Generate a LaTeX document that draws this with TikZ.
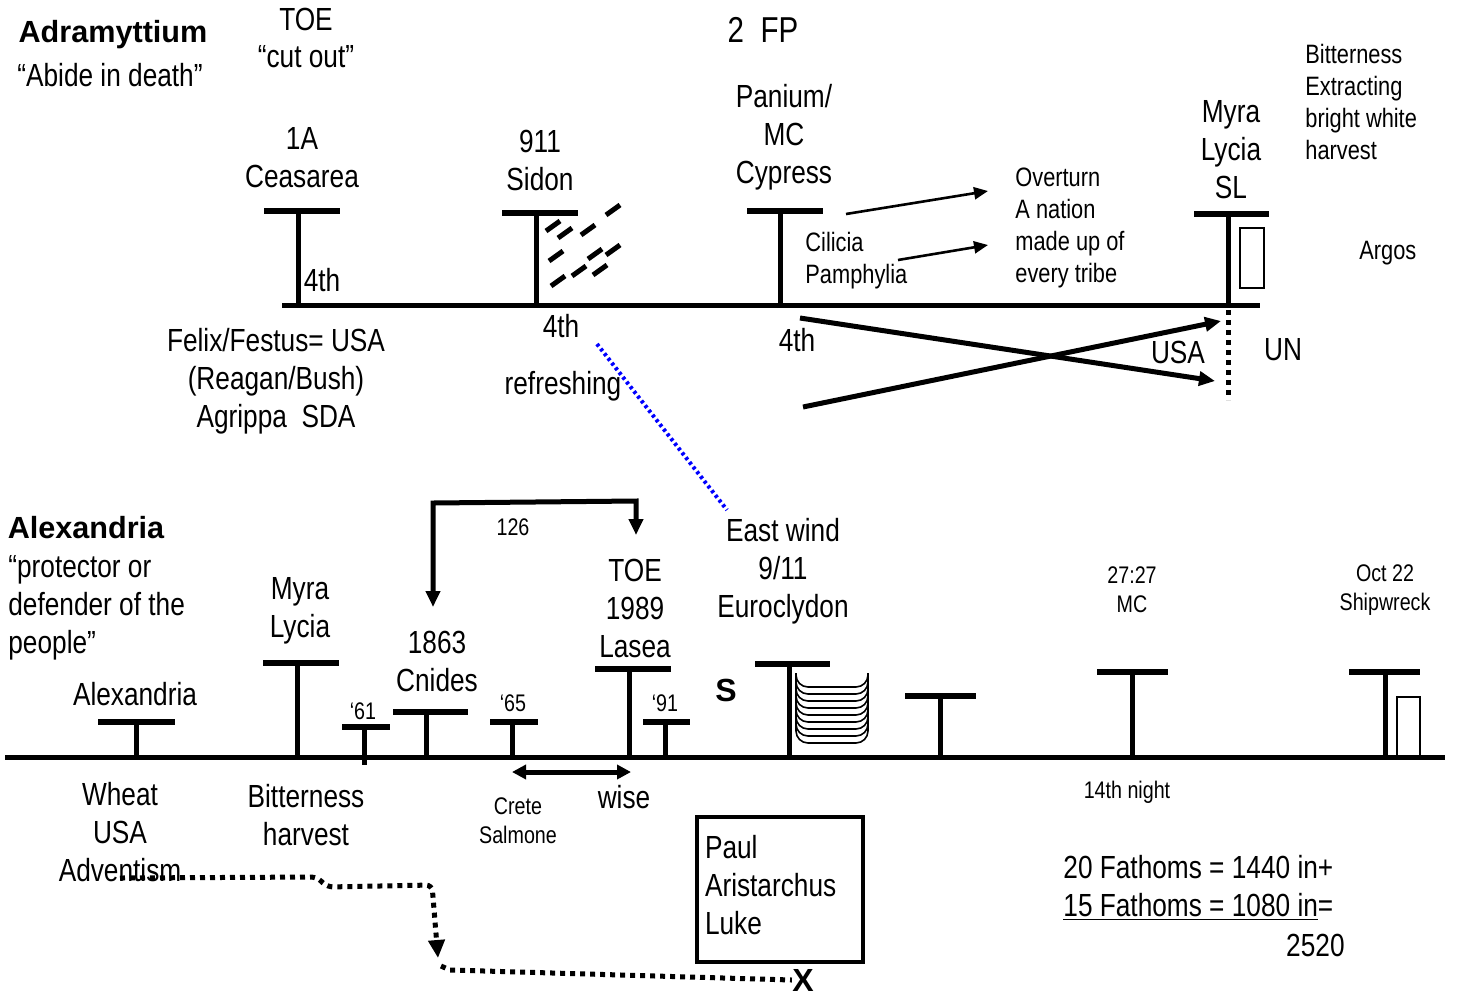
\documentclass[tikz,border=0pt]{standalone}
\usepackage{fontspec}
\setmainfont{Liberation Sans}[FakeStretch=0.82]
\newfontfamily\headfont{Liberation Sans}
\usepackage{tikz}
\usetikzlibrary{arrows.meta}

\begin{document}
\begin{tikzpicture}[x=0.5pt,y=-0.5pt,
			big/.style={
				font=\fontsize{16}{19}\selectfont,
				align=center, inner sep=0pt
			},
			mid/.style={
				font=\fontsize{13.3}{16}\selectfont,
				align=left, inner sep=0pt, anchor=west
			},
			small/.style={
				font=\fontsize{12}{14.5}\selectfont,
				align=center, inner sep=0pt
			},
			head/.style={
				font=\headfont\bfseries\fontsize{15.3}{18}\selectfont,
				inner sep=0pt
			},
			ground/.style={line width=2.5pt},
			post/.style={line width=2.5pt},
			bar/.style={line width=3pt},
			heavy/.style={line width=2.5pt},
			thin/.style={line width=0.8pt},
			trail/.style={line width=2.5pt, dash pattern=on 2.5pt off 2.5pt},
			tip/.style={-{Triangle[length=8pt,width=7pt]}}
			]
			
			\useasboundingbox (0,0) rectangle (1460,996);
			
			% upper voyage
			\node[head] (adram) at (113,35) {Adramyttium};
			\node[big] (abide) at (110,75) {“Abide in death”};
			\node[big,font=\fontsize{16}{18.5}\selectfont] (toetop) at (306,38) {TOE\\“cut out”};
			\node[big,font=\fontsize{18}{21}\selectfont] (fp) at (763,30) {2\ \ FP};
			
			\draw[ground] (282,305) -- (1260,305);
			
			\draw[bar] (264,211) -- (340,211);
			\draw[post] (298,211) -- (298,305);
			\node[big] (caesarea) at (302,158) {1A\\Ceasarea};
			\node[big] (fourtha) at (322,280) {4th};
			
			\draw[bar] (502,213) -- (578,213);
			\draw[post] (536,213) -- (536,305);
			\node[big] (sidon) at (540,160) {911\\Sidon};
			\node[big] (fourthb) at (561,326) {4th};
			\node[big] (refresh) at (563,386) {refreshing};
			\foreach \cx/\cy in {553/226, 565/233, 588/230, 613/210, 556/256,
				595/254, 613/250, 579/271, 558/281, 600/270}
			\draw[heavy] (\cx-7,\cy+5) -- (\cx+7,\cy-5);
			
			\draw[bar] (747,211) -- (823,211);
			\draw[post] (780,211) -- (780,305);
			\node[big] (panium) at (784,137) {Panium/\\MC\\Cypress};
			\node[big] (fourthc) at (797,340) {4th};
			\node[mid] (cilicia) at (805,261) {Cilicia\\Pamphylia};
			\node[mid] (overturn) at (1015,228) {Overturn\\A nation\\made up of\\every tribe};
			
			\draw[bar] (1194,214) -- (1269,214);
			\draw[post] (1228,214) -- (1228,305);
			\draw[thin] (1240,228) rectangle (1264,288);
			\node[big] (myratop) at (1231,150) {Myra\\Lycia\\SL};
			\node[mid] (bittertop) at (1305,102) {Bitterness\\Extracting\\bright white\\harvest};
			\node[mid] (argos) at (1359,253) {Argos};
			\draw[trail] (1228,310) -- (1228,400);
			\node[big] (usatop) at (1178,352) {USA};
			\node[big] (un) at (1283,350) {UN};
			
			\node[big] (felix) at (276,381) {Felix/Festus= USA\\(Reagan/Bush)\\Agrippa\ \ SDA};
			
			\coordinate (pa) at (846,214);
			\coordinate (pb) at (988,191);
			\coordinate (ca) at (898,260);
			\coordinate (cb) at (988,245);
			\draw[line width=1.3pt,-{Triangle[length=7pt,width=6pt]}] (pa) -- (pb);
			\draw[line width=1.3pt,-{Triangle[length=7pt,width=6pt]}] (ca) -- (cb);
			
			\coordinate (xa1) at (800,318);
			\coordinate (xa2) at (1215,381);
			\coordinate (xb1) at (803,407);
			\coordinate (xb2) at (1221,321);
			\draw[heavy,tip] (xa1) -- (xa2);
			\draw[heavy,tip] (xb1) -- (xb2);
			
			\coordinate (wa) at (597,344);
			\coordinate (wb) at (727,510);
			\draw[blue,line width=2pt,dash pattern=on 1.5pt off 1.5pt] (wa) -- (wb);
			
			% lower voyage
			\node[head] (alex) at (86,528) {Alexandria};
			\node[big,align=left,anchor=west] (protector) at (8,608) {“protector or\\defender of the\\people”};
			
			\draw[ground] (5,757) -- (1445,757);
			
			\draw[bar] (98,722) -- (175,722);
			\draw[post] (136,722) -- (136,757);
			\node[big] (alexport) at (135,694) {Alexandria};
			
			\draw[bar] (263,663) -- (339,663);
			\draw[post] (297,663) -- (297,757);
			\node[big] (myralow) at (300,611) {Myra\\Lycia};
			
			\draw[bar] (342,727) -- (390,727);
			\draw[post] (364,727) -- (364,765);
			\node[small] (ysixone) at (363,711) {‘61};
			
			\draw[bar] (393,712) -- (468,712);
			\draw[post] (426,712) -- (426,757);
			\node[big] (cnides) at (437,661) {1863\\Cnides};
			
			\draw[bar] (490,722) -- (538,722);
			\draw[post] (512,722) -- (512,757);
			\node[small] (ysixfive) at (513,703) {‘65};
			
			\draw[bar] (595,669) -- (671,669);
			\draw[post] (629,669) -- (629,757);
			\node[big] (lasea) at (635,608) {TOE\\1989\\Lasea};
			
			\draw[bar] (643,722) -- (690,722);
			\draw[post] (665,722) -- (665,757);
			\node[small] (ynineone) at (665,703) {‘91};
			
			\coordinate (ba) at (433,607);
			\coordinate (bb) at (433,503);
			\coordinate (bc) at (636,501);
			\coordinate (bd) at (636,535);
			\draw[heavy,{Triangle[length=8pt,width=7pt]}-{Triangle[length=8pt,width=7pt]}] (ba) -- (bb) -- (bc) -- (bd);
			\node[small] (years) at (513,527) {126};
			
			\coordinate (da) at (512,772);
			\coordinate (db) at (631,772);
			\draw[heavy,{Triangle[length=7pt,width=7pt]}-{Triangle[length=7pt,width=7pt]}] (da) -- (db);
			\node[small] (crete) at (518,821) {Crete\\Salmone};
			\node[big] (wise) at (624,797) {wise};
			
			\node[head,font=\headfont\bfseries\fontsize{16}{19}\selectfont] (sign) at (726,690) {S};
			
			\draw[bar] (755,664) -- (830,664);
			\draw[post] (789,664) -- (789,757);
			\node[big] (euro) at (783,571) {East wind\\9/11\\Euroclydon};
			\foreach \b in {687,694,701,708,715,722,729,736,743}
			\draw[line width=0.8pt,rounded corners=6pt] (796,673) -- (796,\b) -- (868,\b) -- (868,673);
			
			\draw[bar] (905,696) -- (976,696);
			\draw[post] (940,696) -- (940,757);
			
			\draw[bar] (1097,672) -- (1168,672);
			\draw[post] (1132,672) -- (1132,757);
			\node[small] (chapter) at (1132,590) {27:27\\MC};
			\node[small] (night) at (1127,792) {14th night};
			
			\draw[bar] (1349,672) -- (1420,672);
			\draw[post] (1385,672) -- (1385,757);
			\draw[thin] (1397,697) rectangle (1420,757);
			\node[small] (wreck) at (1385,590) {Oct 22\\Shipwreck};
			
			\node[big] (wheat) at (120,832) {Wheat\\USA\\Adventism};
			\node[big] (bitterlow) at (306,815) {Bitterness\\harvest};
			
			\node[big,draw,line width=2pt,align=left,text width=75pt,inner xsep=4pt,
			minimum height=72.5pt] (crew) at (780,889) {Paul\\Aristarchus\\Luke\vspace{4pt}};
			\node[head,font=\headfont\bfseries\fontsize{16}{19}\selectfont] (mark) at (803,980) {X};
			
			\coordinate (ta) at (120,878);
			\coordinate (tb) at (317,877);
			\coordinate (tc) at (327,887);
			\coordinate (td) at (432,885);
			\coordinate (te) at (438,958);
			\coordinate (tf) at (441,966);
			\coordinate (tg) at (450,970);
			\draw[trail,rounded corners=3pt,-{Triangle[length=9pt,width=8pt]}] (ta) -- (tb) -- (tc) -- (td) -- (te);
			\draw[trail] (tf) -- (tg) -- (mark.west);
			
			\node[big,align=left,anchor=west] (fathoms) at (1063,888)
			{20 Fathoms = 1440 in+\\\underline{15 Fathoms = 1080 in}=};
			\node[big,anchor=east] (total) at (1345,945) {2520};
			
		\end{tikzpicture}
\end{document}
